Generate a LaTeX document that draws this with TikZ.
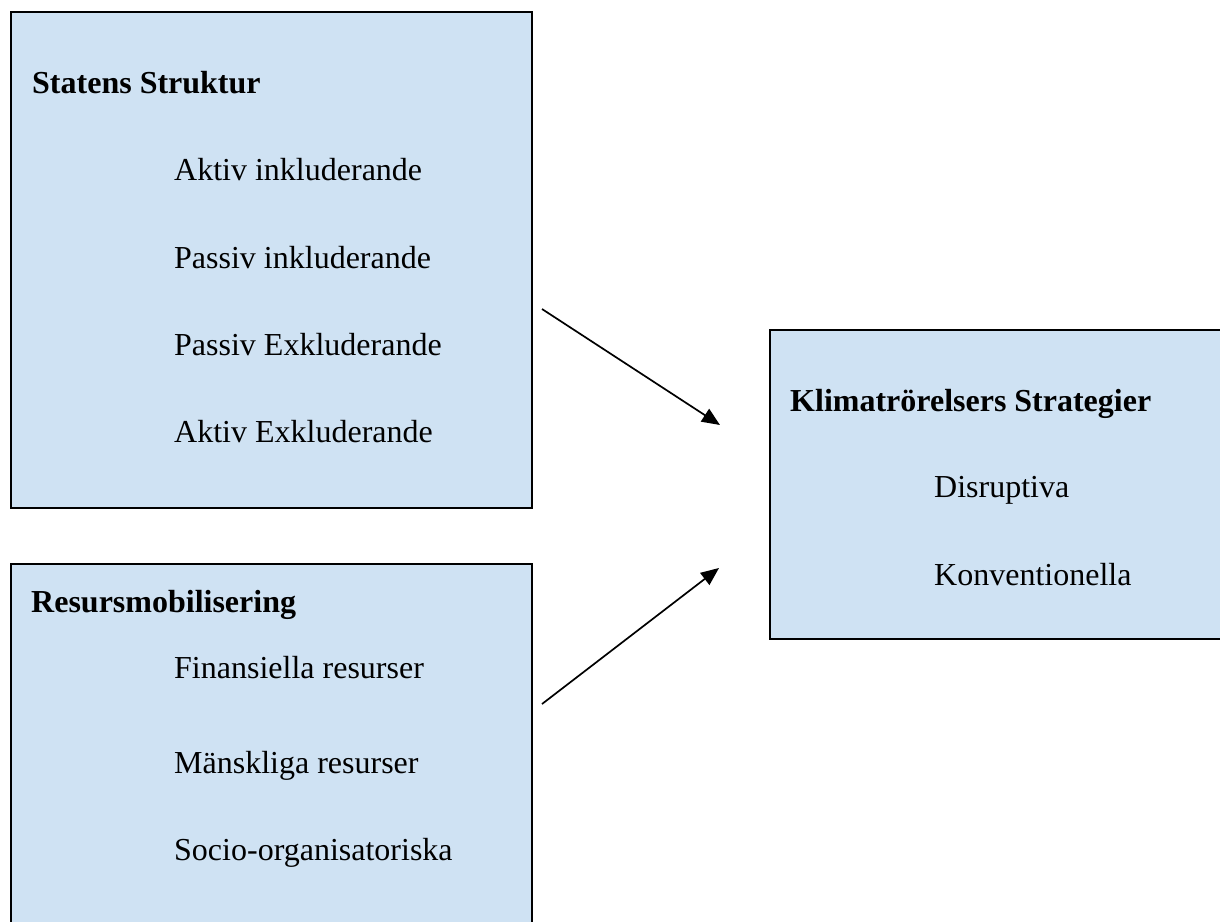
\documentclass[tikz,border=0pt]{standalone}
\usepackage{fontspec}
\setmainfont{Liberation Serif}
\usetikzlibrary{arrows.meta}
\definecolor{boxfill}{RGB}{207,226,243}
\tikzset{
  box/.style={draw=black, line width=2.2pt, fill=boxfill, inner sep=0pt, anchor=north west},
  lbl/.style={anchor=base west, inner sep=0pt, font=\fontsize{32}{38}\selectfont},
  head/.style={lbl, font=\fontsize{32}{38}\selectfont\bfseries},
  conn/.style={line width=1.7pt, -{Triangle[length=18pt, width=15pt]}}
}
\begin{document}
\begin{tikzpicture}[x=1pt,y=-1pt]
\useasboundingbox (0,0) rectangle (1220,921);
\begin{scope}
\clip (0,0) rectangle (1220,921);
\node[box, minimum width=521pt, minimum height=496pt] (stat) at (10,11) {};
\node[box, minimum width=521pt, minimum height=390pt] (res) at (10,563) {};
\node[box, minimum width=470pt, minimum height=309pt] (klim) at (769,329) {};
\end{scope}

\node[head] (h1) at (32,93) {Statens Struktur};
\node[lbl] (s1) at (174,180) {Aktiv inkluderande};
\node[lbl] (s2) at (174,268) {Passiv inkluderande};
\node[lbl] (s3) at (174,355) {Passiv Exkluderande};
\node[lbl] (s4) at (174,442) {Aktiv Exkluderande};

\node[head] (h2) at (31,612) {Resursmobilisering};
\node[lbl] (r1) at (174,678) {Finansiella resurser};
\node[lbl] (r2) at (174,773) {Mänskliga resurser};
\node[lbl] (r3) at (174,860) {Socio-organisatoriska};

\node[head] (h3) at (790,411) {Klimatrörelsers Strategier};
\node[lbl] (k1) at (934,497) {Disruptiva};
\node[lbl] (k2) at (934,585) {Konventionella};

\coordinate (a1s) at (542,309);
\coordinate (a1e) at (720,425);
\coordinate (a2s) at (542,704);
\coordinate (a2e) at (719,568);
\draw[conn] (a1s) -- (a1e);
\draw[conn] (a2s) -- (a2e);
\end{tikzpicture}
\end{document}
